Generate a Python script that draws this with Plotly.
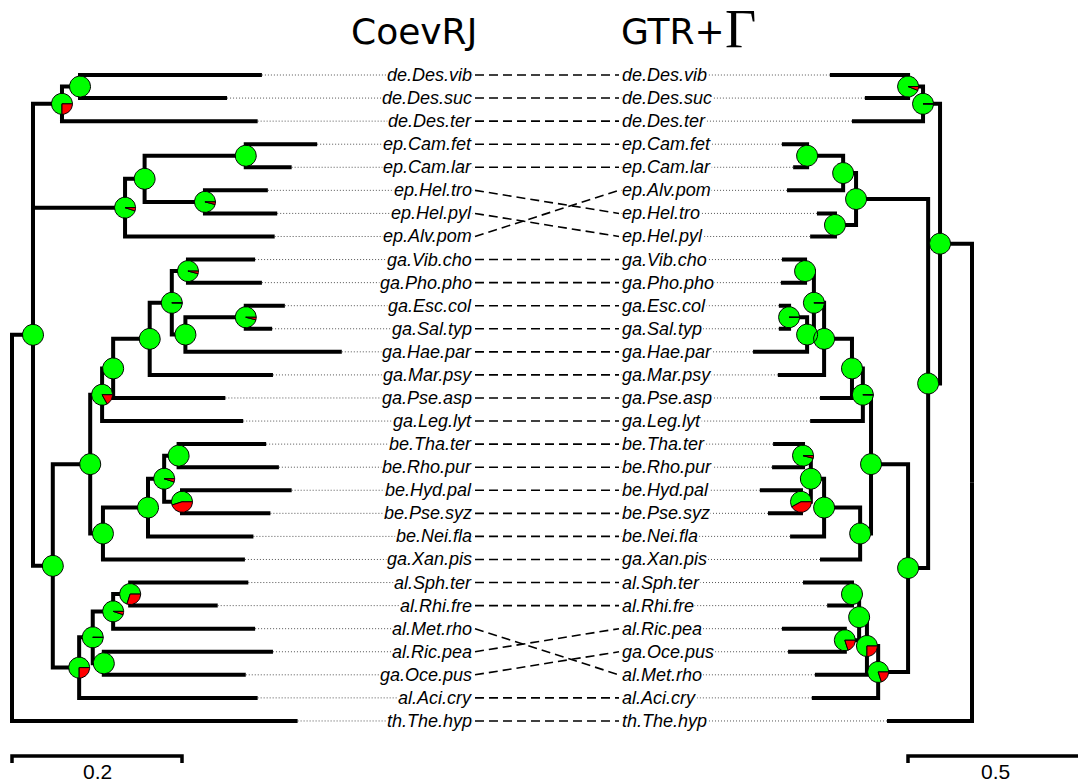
import math
import plotly.graph_objects as go

# ---------------- data ----------------
TITLE_LEFT = "CoevRJ"
TITLE_RIGHT = "GTR+"
TITLE_RIGHT_SYMBOL = "Γ"

# Left tree (CoevRJ): internal nodes
L_NODES  = ["R0", "A", "de", "B", "ep", "C", "D", "E", "F", "G", "I", "K", "P", "M", "L", "N", "O",
            "J", "Q", "R", "S", "T", "H", "U", "V", "X", "W"]
L_PARENT = [None, "R0", "A", "de", "A", "ep", "C", "C", "A", "F", "G", "I", "K", "P", "M", "M", "N",
            "G", "J", "Q", "R", "R", "F", "H", "U", "V", "U"]
L_DEPTH  = [0.0, 0.0247, 0.0588, 0.080, 0.133, 0.156, 0.275, 0.227, 0.048, 0.092, 0.106, 0.119, 0.162,
            0.188, 0.207, 0.204, 0.275, 0.107, 0.160, 0.179, 0.196, 0.200, 0.079, 0.095, 0.119, 0.139, 0.108]
L_RED    = [None, 0.0, 0.25, 0.0, 0.05, 0.0, 0.0, 0.04, 0.0, 0.0, 0.17, 0.0, 0.0,
            0.004, 0.04, 0.0, 0.04, 0.0, 0.0, 0.05, 0.0, 0.45, 0.25, 0.004, 0.05, 0.30, 0.0]

L_TIPS = ["de.Des.vib", "de.Des.suc", "de.Des.ter", "ep.Cam.fet", "ep.Cam.lar", "ep.Hel.tro",
          "ep.Hel.pyl", "ep.Alv.pom", "ga.Vib.cho", "ga.Pho.pho", "ga.Esc.col", "ga.Sal.typ",
          "ga.Hae.par", "ga.Mar.psy", "ga.Pse.asp", "ga.Leg.lyt", "be.Tha.ter", "be.Rho.pur",
          "be.Hyd.pal", "be.Pse.syz", "be.Nei.fla", "ga.Xan.pis", "al.Sph.ter", "al.Rhi.fre",
          "al.Met.rho", "al.Ric.pea", "ga.Oce.pus", "al.Aci.cry", "th.The.hyp"]
L_TIP_PARENT = ["B", "B", "de", "D", "D", "E", "E", "ep", "L", "L", "O", "O", "N", "P", "K", "I",
                "S", "S", "T", "T", "Q", "J", "X", "X", "V", "W", "W", "H", "R0"]
L_TIP_DEPTH = [0.294, 0.253, 0.289, 0.359, 0.329, 0.301, 0.312, 0.309, 0.286, 0.294, 0.321, 0.306,
               0.388, 0.307, 0.251, 0.272, 0.299, 0.314, 0.329, 0.304, 0.284, 0.274, 0.278, 0.242,
               0.286, 0.307, 0.275, 0.289, 0.336]

# Right tree (GTR+Gamma): internal nodes
R_NODES  = ["r0", "rY", "rde", "rB", "rZ", "rep", "rC", "rD", "rE", "rF", "rG", "rI", "rK", "rP",
            "rM", "rL", "rN", "rO", "rJ", "rQ", "rR", "rS", "rT", "rH", "rU", "rV", "rX", "rW"]
R_PARENT = [None, "r0", "rY", "rde", "rY", "rZ", "rep", "rC", "rep", "rZ", "rF", "rG", "rI", "rK",
            "rP", "rM", "rM", "rN", "rG", "rJ", "rQ", "rR", "rR", "rF", "rH", "rU", "rV", "rV"]
R_DEPTH  = [0.0, 0.094, 0.144, 0.188, 0.129, 0.341, 0.379, 0.485, 0.403, 0.188, 0.297, 0.321, 0.353,
            0.435, 0.465, 0.491, 0.485, 0.538, 0.329, 0.435, 0.474, 0.497, 0.503, 0.276, 0.309,
            0.332, 0.353, 0.374]
R_RED    = [None, 0.0, 0.004, 0.06, 0.0, 0.0, 0.0, 0.0, 0.0, 0.0, 0.0, 0.004, 0.0, 0.0,
            0.004, 0.0, 0.0, 0.004, 0.0, 0.0, 0.0, 0.04, 0.42, 0.20, 0.25, 0.0, 0.0, 0.20]

R_TIPS = ["de.Des.vib", "de.Des.suc", "de.Des.ter", "ep.Cam.fet", "ep.Cam.lar", "ep.Alv.pom",
          "ep.Hel.tro", "ep.Hel.pyl", "ga.Vib.cho", "ga.Pho.pho", "ga.Esc.col", "ga.Sal.typ",
          "ga.Hae.par", "ga.Mar.psy", "ga.Pse.asp", "ga.Leg.lyt", "be.Tha.ter", "be.Rho.pur",
          "be.Hyd.pal", "be.Pse.syz", "be.Nei.fla", "ga.Xan.pis", "al.Sph.ter", "al.Rhi.fre",
          "al.Ric.pea", "ga.Oce.pus", "al.Met.rho", "al.Aci.cry", "th.The.hyp"]
R_TIP_PARENT = ["rB", "rB", "rde", "rD", "rD", "rC", "rE", "rE", "rL", "rL", "rO", "rO", "rN", "rP",
                "rK", "rI", "rS", "rS", "rT", "rT", "rQ", "rJ", "rX", "rX", "rW", "rW", "rU", "rH", "r0"]
R_TIP_DEPTH = [0.418, 0.315, 0.353, 0.559, 0.526, 0.544, 0.456, 0.476, 0.559, 0.562, 0.568, 0.568,
               0.644, 0.571, 0.447, 0.476, 0.585, 0.588, 0.624, 0.600, 0.535, 0.447, 0.497, 0.426,
               0.559, 0.541, 0.462, 0.471, 0.25]

SCALE_LEFT = 0.2
SCALE_RIGHT = 0.5
SCALE_LEFT_LABEL = "0.2"
SCALE_RIGHT_LABEL = "0.5"

# ---------------- layout constants (pixels) ----------------
W, H = 1079, 783
ROW0, ROWH = 75.0, 23.07
L_ROOT_PX, L_PPU = 12.0, 850.0
R_ROOT_PX, R_PPU = 972.0, 340.0
PIE_R = 10.5
GREEN, RED = "#00FF00", "#FF0000"

def ly(py):
    return (py - ROW0) / ROWH

def lx(px):
    return (px - L_ROOT_PX) / L_PPU

def rx(px):
    return (R_ROOT_PX - px) / R_PPU


def layout_tree(nodes, parents, depths, tips, tparents, tdepths):
    depth = dict(zip(nodes, depths))
    depth.update(zip(tips, tdepths))
    parent = dict(zip(nodes, parents))
    parent.update(zip(tips, tparents))
    children = {n: [] for n in nodes}
    for n, p in parent.items():
        if p is not None:
            children[p].append(n)
    y = {t: float(i) for i, t in enumerate(tips)}

    def gety(n):
        if n in y:
            return y[n]
        ys = [gety(c) for c in children[n]]
        y[n] = (min(ys) + max(ys)) / 2.0
        return y[n]

    for n in nodes:
        gety(n)
    return depth, parent, y


def branch_xy(depth, parent, y):
    xs, ys = [], []
    for n, p in parent.items():
        if p is None:
            continue
        xs += [depth[p], depth[p], depth[n], None]
        ys += [y[p], y[n], y[n], None]
    return xs, ys


def pie_polys(nodes, reds, depth, y, ppu, sgn):
    gx, gy, rxs, rys = [], [], [], []
    for n, f in zip(nodes, reds):
        if f is None:
            continue
        cx, cy = depth[n], y[n]

        def pt(a):
            return (cx + sgn * PIE_R * math.cos(a) / ppu, cy - PIE_R * math.sin(a) / ROWH)

        if f <= 0:
            for k in range(73):
                px, py = pt(2 * math.pi * k / 72)
                gx.append(px); gy.append(py)
            gx.append(None); gy.append(None)
            continue
        # green: 0 -> (1-f)*2pi counterclockwise ; red: -(f*2pi) -> 0
        a_end = (1 - f) * 2 * math.pi
        nseg = max(3, int(72 * (1 - f)))
        gx.append(cx); gy.append(cy)
        for k in range(nseg + 1):
            px, py = pt(a_end * k / nseg)
            gx.append(px); gy.append(py)
        gx.append(cx); gy.append(cy)
        gx.append(None); gy.append(None)
        nseg = max(2, int(72 * f))
        rxs.append(cx); rys.append(cy)
        for k in range(nseg + 1):
            px, py = pt(-f * 2 * math.pi * k / nseg)
            rxs.append(px); rys.append(py)
        rxs.append(cx); rys.append(cy)
        rxs.append(None); rys.append(None)
    return gx, gy, rxs, rys


Ld, Lp, Ly = layout_tree(L_NODES, L_PARENT, L_DEPTH, L_TIPS, L_TIP_PARENT, L_TIP_DEPTH)
Rd, Rp, Ry = layout_tree(R_NODES, R_PARENT, R_DEPTH, R_TIPS, R_TIP_PARENT, R_TIP_DEPTH)

fig = go.Figure()

# dotted leader lines
LAB_L_PX, LAB_R_PX = 473.0, 621.0
dx, dy = [], []
for t in L_TIPS:
    dx += [Ld[t], lx(LAB_L_PX), None]
    dy += [Ly[t], Ly[t], None]
fig.add_trace(go.Scatter(x=dx, y=dy, mode="lines", xaxis="x", yaxis="y",
                         line=dict(color="#555555", width=1, dash="1px,2px"), hoverinfo="skip"))
dx, dy = [], []
for t in R_TIPS:
    dx += [Rd[t], rx(LAB_R_PX), None]
    dy += [Ry[t], Ry[t], None]
fig.add_trace(go.Scatter(x=dx, y=dy, mode="lines", xaxis="x2", yaxis="y",
                         line=dict(color="#555555", width=1, dash="1px,2px"), hoverinfo="skip"))

# dashed connectors between matching taxa
cx_, cy_ = [], []
for i, t in enumerate(L_TIPS):
    j = R_TIPS.index(t)
    cx_ += [lx(475), lx(619), None]
    cy_ += [float(i), float(j), None]
fig.add_trace(go.Scatter(x=cx_, y=cy_, mode="lines", xaxis="x", yaxis="y",
                         line=dict(color="black", width=1.6, dash="9px,5px"), hoverinfo="skip"))

# branches
bx, by = branch_xy(Ld, Lp, Ly)
fig.add_trace(go.Scatter(x=bx, y=by, mode="lines", xaxis="x", yaxis="y",
                         line=dict(color="black", width=4), hoverinfo="skip"))
bx, by = branch_xy(Rd, Rp, Ry)
fig.add_trace(go.Scatter(x=bx, y=by, mode="lines", xaxis="x2", yaxis="y",
                         line=dict(color="black", width=4), hoverinfo="skip"))

# pies
for nodes, reds, d, yy, ppu, sgn, xa in [(L_NODES, L_RED, Ld, Ly, L_PPU, 1, "x"),
                                          (R_NODES, R_RED, Rd, Ry, R_PPU, -1, "x2")]:
    gx, gy, rxs, rys = pie_polys(nodes, reds, d, yy, ppu, sgn)
    fig.add_trace(go.Scatter(x=gx, y=gy, mode="lines", fill="toself", fillcolor=GREEN,
                             xaxis=xa, yaxis="y", line=dict(color="black", width=1), hoverinfo="skip"))
    fig.add_trace(go.Scatter(x=rxs, y=rys, mode="lines", fill="toself", fillcolor=RED,
                             xaxis=xa, yaxis="y", line=dict(color="black", width=1), hoverinfo="skip"))

# scale bars
SB_Y = ly(756)
SB_T = ly(763)
fig.add_trace(go.Scatter(x=[0, 0, SCALE_LEFT, SCALE_LEFT], y=[SB_T, SB_Y, SB_Y, SB_T], mode="lines",
                         xaxis="x", yaxis="y", line=dict(color="black", width=3.5), hoverinfo="skip"))
r_start = rx(908)
fig.add_trace(go.Scatter(x=[r_start, r_start, r_start - SCALE_RIGHT], y=[SB_T, SB_Y, SB_Y], mode="lines",
                         xaxis="x2", yaxis="y", line=dict(color="black", width=3.5), hoverinfo="skip"))

annotations = []
lab_font = dict(family="Liberation Sans", size=18, color="black", style="italic")
for t in L_TIPS:
    annotations.append(dict(x=LAB_L_PX / W, xref="paper", y=Ly[t], yref="y", text=t, showarrow=False,
                            xanchor="right", yanchor="middle", font=lab_font, bgcolor="white",
                            borderpad=0))
for t in R_TIPS:
    annotations.append(dict(x=LAB_R_PX / W, xref="paper", y=Ry[t], yref="y", text=t, showarrow=False,
                            xanchor="left", yanchor="middle", font=lab_font, bgcolor="white",
                            borderpad=0))

annotations.append(dict(x=(L_ROOT_PX + SCALE_LEFT * L_PPU / 2) / W, xref="paper", y=ly(771), yref="y",
                        text=SCALE_LEFT_LABEL, showarrow=False, xanchor="center", yanchor="middle",
                        font=dict(family="Liberation Sans", size=21, color="black")))
annotations.append(dict(x=995 / W, xref="paper", y=ly(771), yref="y",
                        text=SCALE_RIGHT_LABEL, showarrow=False, xanchor="center", yanchor="middle",
                        font=dict(family="Liberation Sans", size=21, color="black")))

annotations.append(dict(x=349 / W, xref="paper", y=ly(31), yref="y", text=TITLE_LEFT, showarrow=False,
                        xanchor="left", yanchor="middle",
                        font=dict(family="DejaVu Sans", size=36, color="black")))
annotations.append(dict(x=619 / W, xref="paper", y=ly(31), yref="y", text=TITLE_RIGHT, showarrow=False,
                        xanchor="left", yanchor="middle",
                        font=dict(family="DejaVu Sans", size=36, color="black")))
annotations.append(dict(x=723 / W, xref="paper", y=ly(29), yref="y", text=TITLE_RIGHT_SYMBOL,
                        showarrow=False, xanchor="left", yanchor="middle",
                        font=dict(family="Liberation Serif", size=54, color="black")))

ax_common = dict(showgrid=False, zeroline=False, showticklabels=False, showline=False, ticks="",
                 fixedrange=True)
fig.update_layout(
    width=W, height=H, margin=dict(l=0, r=0, t=0, b=0), showlegend=False,
    paper_bgcolor="white", plot_bgcolor="white",
    xaxis=dict(range=[lx(0), lx(W)], domain=[0, 1], **ax_common),
    xaxis2=dict(range=[rx(0), rx(W)], domain=[0, 1], overlaying="x", **ax_common),
    yaxis=dict(range=[ly(H), ly(0)], domain=[0, 1], **ax_common),
    annotations=annotations,
)

fig.write_html("out.html")
